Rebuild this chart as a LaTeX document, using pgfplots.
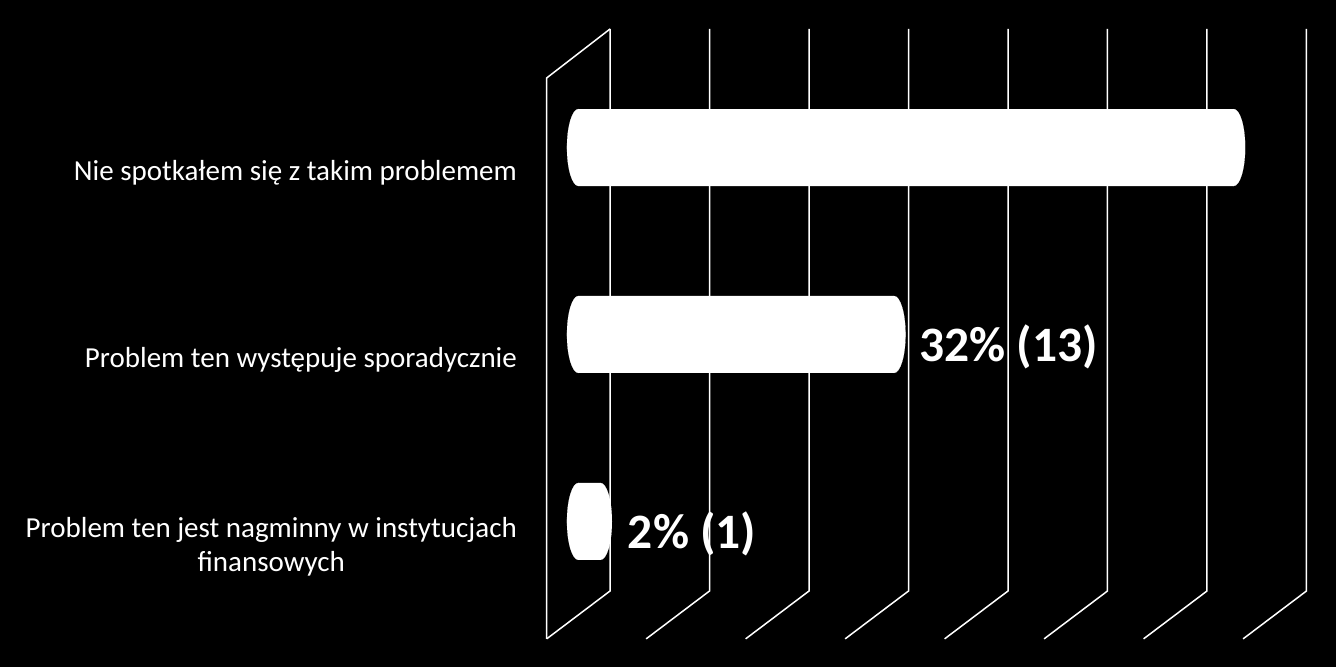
\documentclass[border=0pt]{standalone}
\usepackage{pgfplots}
\pgfplotsset{compat=1.18}
\usepackage{fontspec}
\setmainfont{Carlito}

\begin{document}
\begin{tikzpicture}
\begin{axis}[
  scale only axis, width=1336pt, height=667pt,
  xmin=-58.14, xmax=76.13,
  ymin=-0.789, ymax=2.778, y dir=reverse,
  axis background/.style={fill=black},
  axis line style={draw=none},
  major tick length=0pt,
  xtick=\empty,
  ytick={0,1,2},
  yticklabels={Nie spotkałem się z takim problemem, Problem ten występuje sporadycznie, {Problem ten jest nagminny w instytucjach\\finansowych}},
  yticklabel style={anchor=east, align=center, inner sep=0pt, xshift=517pt, yshift=-25pt,
    font=\fontsize{29}{34}\selectfont, text=white},
  clip=false,
]
% 3D frame: back wall lines and floor diagonals
\pgfplotsinvokeforeach{0,10,20,30,40,50,60,70}{
  \draw[white, line width=1.5pt] (axis cs:#1+3.17,-0.634) -- (axis cs:#1+3.17,2.372) -- (axis cs:#1-3.2,2.628);
}
\draw[white, line width=1.5pt] (axis cs:3.17,-0.634) -- (axis cs:-3.2,-0.372) -- (axis cs:-3.2,2.628);

% bars
\addplot[xbar, bar width=0.412, fill=white, draw=none] coordinates {(65.85,0) (31.71,1) (2.2,2)};
% rounded ends
\addplot[only marks, draw=white, fill=white, mark=*, mark size=38.5pt,
  mark options={fill=white, draw=white, line width=0.1pt, xscale=0.3}]
  coordinates {(0,0) (0,1) (0,2) (65.85,0) (31.71,1) (2.2,2)};
% value labels
\addplot[draw=none, mark=none, nodes near coords, point meta=explicit symbolic,
  every node near coord/.append style={anchor=west, inner sep=0pt, xshift=25pt, yshift=-12pt,
    text=white, font=\bfseries\fontsize{49.5}{58}\selectfont}]
  coordinates {(31.71,1) [32\% (13)] (2.44,2) [2\% (1)]};
\end{axis}
\end{tikzpicture}
\end{document}
